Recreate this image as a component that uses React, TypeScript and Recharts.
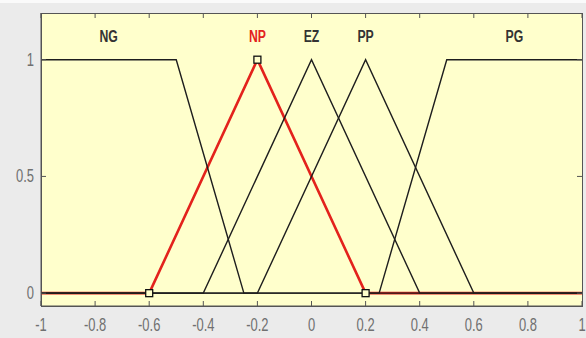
import {
  ComposedChart,
  Line,
  Scatter,
  XAxis,
  YAxis,
} from 'recharts'

// membership functions of the input variable
const xTicks = [-1, -0.8, -0.6, -0.4, -0.2, 0, 0.2, 0.4, 0.6, 0.8, 1]
const yTicks = [0, 0.5, 1]
const xDomain = [-1, 1]
const yDomain = [-0.055, 1.2]

const ngX = [-1, -0.5, -0.25, 1]
const ngY = [1, 1, 0, 0]
const npX = [-1, -0.6, -0.2, 0.2, 1]
const npY = [0, 0, 1, 0, 0]
const ezX = [-1, -0.4, 0, 0.4, 1]
const ezY = [0, 0, 1, 0, 0]
const ppX = [-1, -0.2, 0.2, 0.6, 1]
const ppY = [0, 0, 1, 0, 0]
const pgX = [-1, 0.25, 0.5, 1]
const pgY = [0, 0, 1, 1]

const mfNames = ['NG', 'NP', 'EZ', 'PP', 'PG']
const mfLabelX = [-0.75, -0.2, 0, 0.2, 0.75]
const mfLabelY = 1.1
const selected = 'NP'

const toPoints = (xs: number[], ys: number[]) => xs.map((x, i) => ({ x, y: ys[i] }))

const labels = mfNames.map((name, i) => ({ x: mfLabelX[i], y: mfLabelY, name }))

const RED = '#e3221c'
const INK = '#1e1e1e'
const FRAME = '#555'
const FONT = '"Liberation Sans", Arial, sans-serif'

// plot box inside the 586x338 figure
const W = 586
const H = 338
const M = { top: 13, right: 4, left: 0, bottom: 0 }
const Y_AXIS_W = 41
const X_AXIS_H = 32
const PLOT_W = W - M.left - M.right - Y_AXIS_W
const PLOT_H = H - M.top - M.bottom - X_AXIS_H

const fmt = (v: number) => String(v)

// matlab text looks squeezed horizontally
const Squeezed = ({ x, y, anchor, fill, size, weight, children }: any) => (
  <text
    transform={`translate(${x},${y}) scale(0.72,1)`}
    textAnchor={anchor}
    fill={fill}
    fontSize={size}
    fontWeight={weight}
    fontFamily={FONT}
  >
    {children}
  </text>
)

// inward ticks on both opposite edges, like a boxed matlab axes
const BottomTick = ({ x, y, payload }: any) => (
  <g>
    <line x1={x} x2={x} y1={y} y2={y - 5} stroke={FRAME} />
    <line x1={x} x2={x} y1={y - PLOT_H} y2={y - PLOT_H + 5} stroke={FRAME} />
    <Squeezed x={x} y={y + 25} anchor="middle" fill="#707070" size={18}>
      {fmt(payload.value)}
    </Squeezed>
  </g>
)

const LeftTick = ({ x, y, payload }: any) => (
  <g>
    <line x1={x} x2={x + 5} y1={y} y2={y} stroke={FRAME} />
    <line x1={x + PLOT_W} x2={x + PLOT_W - 5} y1={y} y2={y} stroke={FRAME} />
    <Squeezed x={x - 7} y={y + 6} anchor="end" fill="#707070" size={18}>
      {fmt(payload.value)}
    </Squeezed>
  </g>
)

// hollow square on the vertices of the selected function
const VertexDot = ({ cx, cy, index }: any) => {
  if (index === 0 || index === npX.length - 1) return <g key={index} />
  return (
    <rect
      key={index}
      x={cx - 3.5}
      y={cy - 3.5}
      width={7}
      height={7}
      fill="#ffffcc"
      stroke="#111"
      strokeWidth={1.3}
    />
  )
}

const MfLabel = ({ cx, cy, payload }: any) => {
  const sel = payload.name === selected
  return (
    <Squeezed
      x={cx}
      y={cy + 6}
      anchor="middle"
      fill={sel ? RED : '#333'}
      size={17}
      weight="bold"
    >
      {payload.name}
    </Squeezed>
  )
}

export default function App() {
  return (
    <div
      style={{
        position: 'absolute',
        left: 0,
        top: 0,
        width: W,
        height: H,
        background: '#ebebeb',
      }}
    >
      <div style={{ position: 'absolute', left: 0, top: 0, width: W, height: 3, background: '#fafafa' }} />
      <div
        style={{
          position: 'absolute',
          left: M.left + Y_AXIS_W - 0.5,
          top: M.top - 0.5,
          width: PLOT_W + 1,
          height: PLOT_H + 1,
          boxSizing: 'border-box',
          border: `1px solid ${FRAME}`,
          background: '#ffffcc',
        }}
      />
      <div style={{ position: 'absolute', top: 0, left: 0 }}>
        <ComposedChart width={W} height={H} margin={M}>
          <XAxis
            type="number"
            dataKey="x"
            domain={xDomain}
            ticks={xTicks}
            height={X_AXIS_H}
            tickSize={0}
            tickMargin={0}
            tickLine={false}
            axisLine={{ stroke: FRAME }}
            tick={<BottomTick />}
            allowDataOverflow
          />
          <YAxis
            type="number"
            domain={yDomain}
            ticks={yTicks}
            width={Y_AXIS_W}
            tickSize={0}
            tickMargin={0}
            tickLine={false}
            axisLine={{ stroke: FRAME }}
            tick={<LeftTick />}
            allowDataOverflow
          />
          <Line
            data={toPoints(npX, npY)}
            dataKey="y"
            type="linear"
            stroke={RED}
            strokeWidth={2.6}
            dot={<VertexDot />}
            activeDot={false}
            isAnimationActive={false}
          />
          {[
            [ngX, ngY],
            [ezX, ezY],
            [ppX, ppY],
            [pgX, pgY],
          ].map(([xs, ys], i) => (
            <Line
              key={i}
              data={toPoints(xs, ys)}
              dataKey="y"
              type="linear"
              stroke={INK}
              strokeWidth={1.4}
              dot={false}
              activeDot={false}
              isAnimationActive={false}
            />
          ))}
          <Scatter data={labels} dataKey="y" shape={<MfLabel />} isAnimationActive={false} />
        </ComposedChart>
      </div>
    </div>
  )
}
